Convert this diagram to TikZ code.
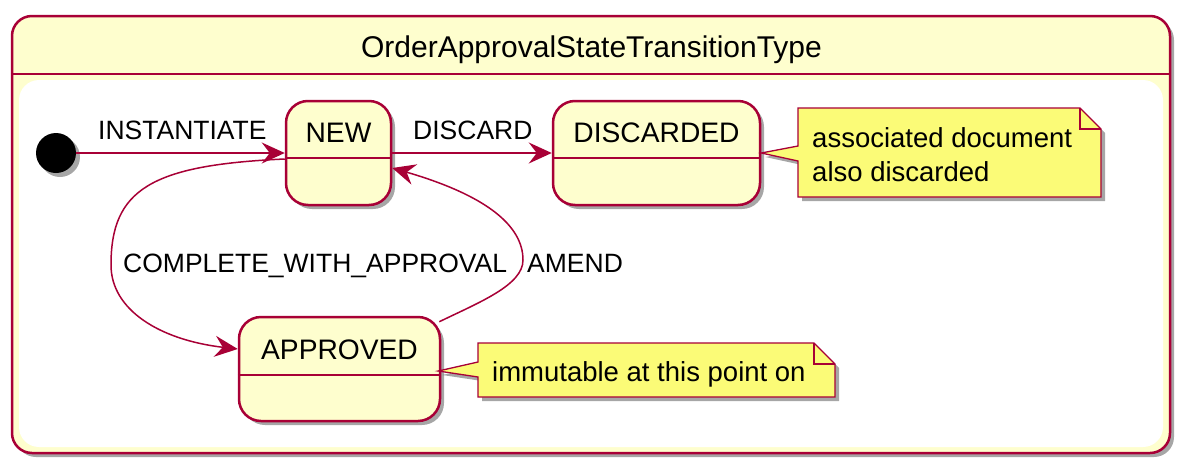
\documentclass[tikz,border=0pt]{standalone}
\usepackage{fontspec}
\setmainfont{Liberation Sans}
\usetikzlibrary{arrows.meta,shadows,calc}
\definecolor{pborder}{HTML}{A80036}
\definecolor{pfill}{HTML}{FEFECE}
\definecolor{pnote}{HTML}{FBFB77}
\tikzset{
 shad/.style={drop shadow={shadow xshift=4pt,shadow yshift=-4pt,opacity=0.35,fill=black}},
 statebox/.style={draw=pborder,fill=pfill,line width=2.5pt,rounded corners=22pt,shad,inner sep=0pt},
 stname/.style={font=\fontsize{28.2}{33}\selectfont,anchor=base,inner sep=0pt},
 lbl/.style={font=\fontsize{26.5}{31}\selectfont,anchor=base west,inner sep=0pt},
 arr/.style={draw=pborder,line width=1.5pt,-{Stealth[length=23pt,width=21pt,inset=8pt]}},
 notebox/.style={draw=pborder,fill=pnote,line width=1.3pt,shad},
 notetext/.style={font=\fontsize{27.5}{34}\selectfont,anchor=base west,inner sep=0pt,align=left},
 divider/.style={draw=pborder,line width=2.5pt},
}
\begin{document}
\begin{tikzpicture}[x=1pt,y=-1pt]
\useasboundingbox (0,0) rectangle (1193,474);
% outer composite state
\node[draw=pborder,fill=pfill,line width=2.5pt,rounded corners=20pt,shad,inner sep=0pt,
      minimum width=1158pt,minimum height=437pt] (frame) at (591,234.5) {};
\draw[divider] (frame.west |- 0,74) -- (frame.east |- 0,74);
\fill[white,rounded corners=20pt] (19,80) rectangle (1163,447);
\node[font=\fontsize{30}{35}\selectfont,anchor=base,inner sep=0pt] (title) at (591.5,57) {OrderApprovalStateTransitionType};

% initial state
\node[circle,fill=black,minimum size=40pt,inner sep=0pt,shad] (init) at (56,153) {};

% states
\node[statebox,minimum width=105pt,minimum height=104pt] (new) at (338.5,153) {};
\node[stname] (newname) at (338.5,142) {NEW};
\draw[divider] (new.west |- 0,158) -- (new.east |- 0,158);

\node[statebox,minimum width=207pt,minimum height=104pt] (discarded) at (656.5,153) {};
\node[stname] (discname) at (656.5,142) {DISCARDED};
\draw[divider] (discarded.west |- 0,158) -- (discarded.east |- 0,158);

\node[statebox,minimum width=201pt,minimum height=104pt] (approved) at (339.5,369) {};
\node[stname] (apprname) at (339.5,359) {APPROVED};
\draw[divider] (approved.west |- 0,375) -- (approved.east |- 0,375);

% transitions
\draw[arr] (init) -- (new);
\draw[arr] (new) -- (discarded);
\draw[arr] ($(new.west)+(0,6)$) .. controls (150,165) and (111,190) .. (111,265)
   .. controls (111,310) and (160,340) .. ($(approved.west)+(0,-20)$);
\draw[arr] ($(approved.north east)+(-2,6)$) .. controls (480,302) and (523,285) .. (523,260)
   .. controls (523,225) and (485,195) .. ($(new.east)+(0,15)$);

% labels
\node[lbl] (linst) at (98,139) {INSTANTIATE};
\node[lbl] (ldisc) at (413,139) {DISCARD};
\node[lbl] (lcomp) at (123,272.5) {COMPLETE\_WITH\_APPROVAL};
\node[lbl] (lamend) at (527,272.5) {AMEND};

% notes
\path[notebox] (798,108) -- (1080,108) -- (1101,129) -- (1101,197) -- (798,197) -- (798,161)
   -- (discarded.east) -- (798,146) -- cycle;
\draw[pborder,line width=1.3pt] (1080,108) -- (1080,129) -- (1101,129);
\node[notetext] (n1) at (812,181) {associated document\\also discarded};

\path[notebox] (478,343) -- (814,343) -- (835,364) -- (835,397) -- (478,397) -- (478,377)
   -- ($(approved.east)+(-3,2)$) -- (478,362) -- cycle;
\draw[pborder,line width=1.3pt] (814,343) -- (814,364) -- (835,364);
\node[notetext] (n2) at (492,381) {immutable at this point on};
\end{tikzpicture}
\end{document}
